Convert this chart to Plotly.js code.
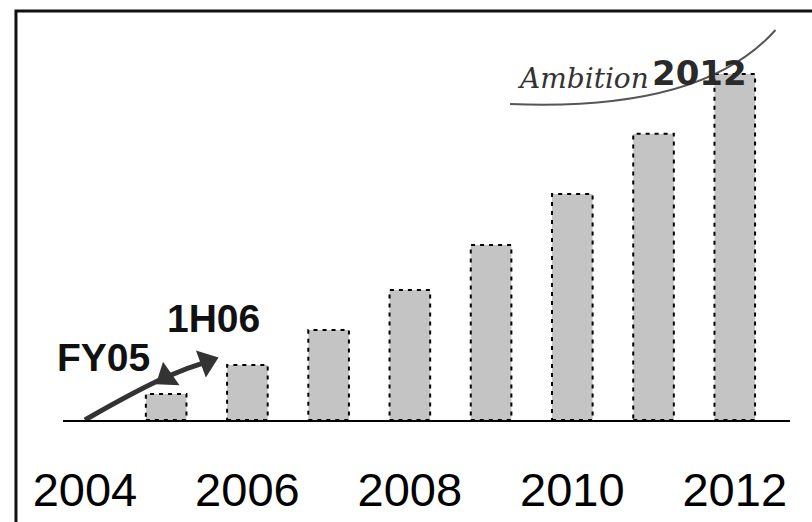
<!DOCTYPE html>
<html>
<head>
<meta charset="utf-8">
<script src="https://cdn.plot.ly/plotly-3.0.1.min.js"></script>
<style>
  html, body { margin: 0; padding: 0; background: #ffffff; }
  #chart { width: 812px; height: 522px; }
</style>
</head>
<body>
<div id="chart"></div>
<script>
// Data (index, 2012 ambition = 100)
const years = [2005, 2006, 2007, 2008, 2009, 2010, 2011, 2012];
const barValues = [7.5, 15.9, 26.0, 37.6, 50.6, 65.3, 82.7, 100];
const actualX = [2004, 2005, 2005.5];
const actualY = [0, 12.4, 16.8];
const actualLabels = ['', 'FY05', '1H06'];
const tickYears = [2004, 2006, 2008, 2010, 2012];
const tickLabels = ['2004', '2006', '2008', '2010', '2012'];

const barWidth = 0.5;
const FONT = 'Liberation Sans, Arial, sans-serif';

const traces = [
  {
    type: 'bar',
    x: years,
    y: barValues,
    width: barWidth,
    marker: { color: '#c4c4c4', line: { width: 0 } },
    hoverinfo: 'x+y'
  },
  {
    type: 'scatter',
    mode: 'lines',
    x: actualX,
    y: actualY,
    line: { color: '#333333', width: 5, shape: 'spline', smoothing: 1.3 },
    hoverinfo: 'skip'
  },
  {
    type: 'scatter',
    mode: 'markers',
    x: actualX.slice(1),
    y: actualY.slice(1),
    marker: { symbol: 'triangle-up', size: 25, color: '#333333', angle: [235, 70], line: { width: 0 } },
    hoverinfo: 'skip'
  }
];

// dotted outlines of the bars, built from the data arrays
const shapes = years.map((yr, i) => ({
  type: 'rect', xref: 'x', yref: 'y',
  x0: yr - barWidth / 2, x1: yr + barWidth / 2,
  y0: 0, y1: barValues[i],
  line: { color: '#000000', width: 2, dash: '4px,5px' },
  fillcolor: 'rgba(0,0,0,0)',
  layer: 'above'
}));

// frame (left and top edges)
shapes.push({
  type: 'path', xref: 'paper', yref: 'paper',
  path: 'M -0.0647 -0.4 L -0.0647 1.0225 L 1.1 1.0225',
  line: { color: '#111111', width: 3 }
});
// swoosh under the logo
shapes.push({
  type: 'path', xref: 'paper', yref: 'paper',
  path: 'M 0.615 0.79 Q 0.88 0.77 0.98 0.975',
  line: { color: '#555555', width: 2 }
});

const annotations = [];
actualLabels.forEach((t, i) => {
  if (!t) return;
  annotations.push({
    x: actualX[i], y: actualY[i], xref: 'x', yref: 'y',
    xanchor: 'center', yanchor: 'middle',
    text: '<b>' + t + '</b>', showarrow: false,
    xshift: i === 1 ? -63 : 7, yshift: i === 1 ? 20 : 43,
    font: { family: FONT, size: 39, color: '#111111' }
  });
});
annotations.push({
  xref: 'paper', yref: 'paper', x: 0.715, y: 0.855,
  xanchor: 'center', yanchor: 'middle',
  text: '<i>Ambition</i>', showarrow: false,
  font: { family: 'DejaVu Serif, serif', size: 28, color: '#333333' }
});
annotations.push({
  xref: 'paper', yref: 'paper', x: 0.876, y: 0.8675,
  xanchor: 'center', yanchor: 'middle',
  text: '<b>2012</b>', showarrow: false,
  font: { family: 'DejaVu Sans, sans-serif', size: 34, color: '#2a2a2a' }
});

const layout = {
  width: 812, height: 522,
  margin: { l: 63, r: 22, t: 20, b: 102 },
  paper_bgcolor: '#ffffff', plot_bgcolor: '#ffffff',
  showlegend: false,
  font: { family: FONT, color: '#000000' },
  xaxis: {
    range: [2003.73, 2012.68],
    tickmode: 'array', tickvals: tickYears, ticktext: tickLabels,
    tickfont: { family: FONT, size: 47, color: '#000000' },
    ticks: '', showgrid: false, zeroline: false,
    showline: true, linecolor: '#000000', linewidth: 2,
    ticklabelstandoff: 28
  },
  yaxis: {
    range: [0, 115.6],
    visible: false, showgrid: false, zeroline: false
  },
  shapes: shapes,
  annotations: annotations
};

Plotly.newPlot('chart', traces, layout, { displayModeBar: false, staticPlot: true });
</script>
</body>
</html>
